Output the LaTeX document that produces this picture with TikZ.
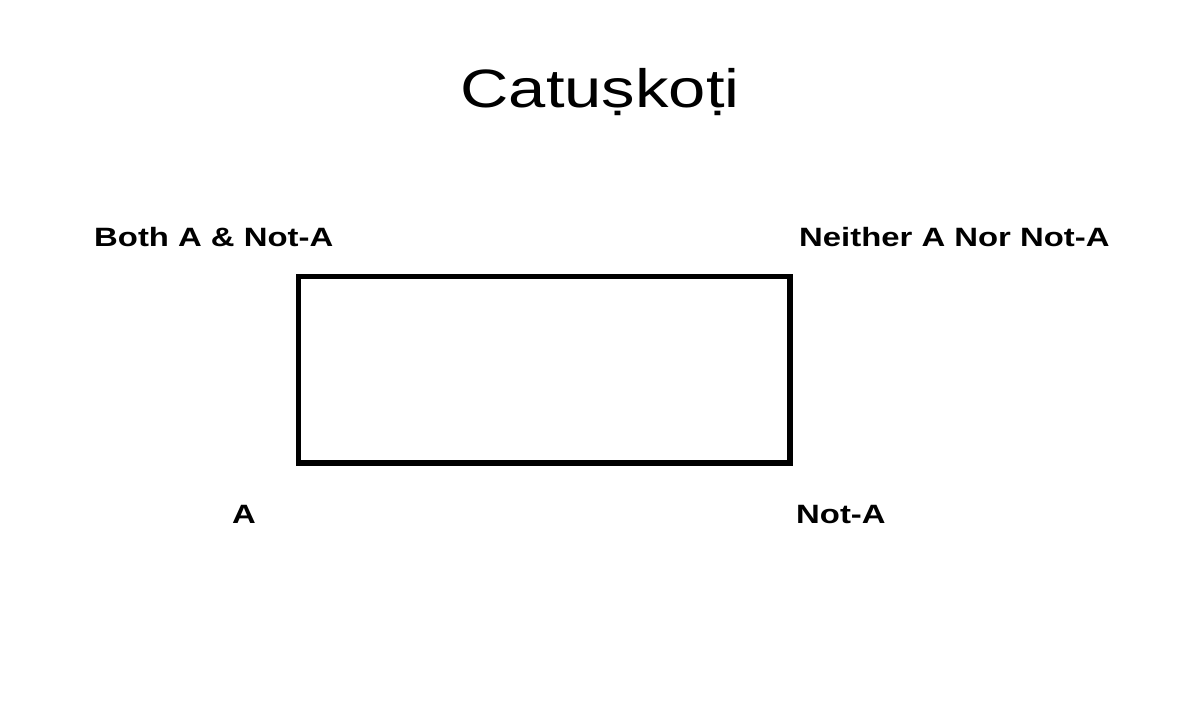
\documentclass[tikz,border=0pt]{standalone}
\usepackage{fontspec}
\setmainfont[FakeStretch=1.24]{Liberation Sans}
\usepackage{tikz}

\begin{document}
\begin{tikzpicture}[x=1pt,y=-1pt]

\useasboundingbox (0,0) rectangle (1200,720);

\node [anchor=base, inner sep=0] (title) at (600,107.5) {\fontsize{54}{60}\selectfont Catuṣkoṭi};

\draw[line width=5.5pt] (298.5,276.5) rectangle (790,463);

{\bfseries \fontsize{26.5}{30}\selectfont
\node [anchor=base west, inner sep=0] (both) at (94,246.7) {Both A \& Not-A};
\node [anchor=base west, inner sep=0] (neither) at (799,246.7) {Neither A Nor Not-A};
\node [anchor=base west, inner sep=0] (a) at (232,523.3) {A};
\node [anchor=base west, inner sep=0] (nota) at (796,523.3) {Not-A};
}

\end{tikzpicture}
\end{document}
